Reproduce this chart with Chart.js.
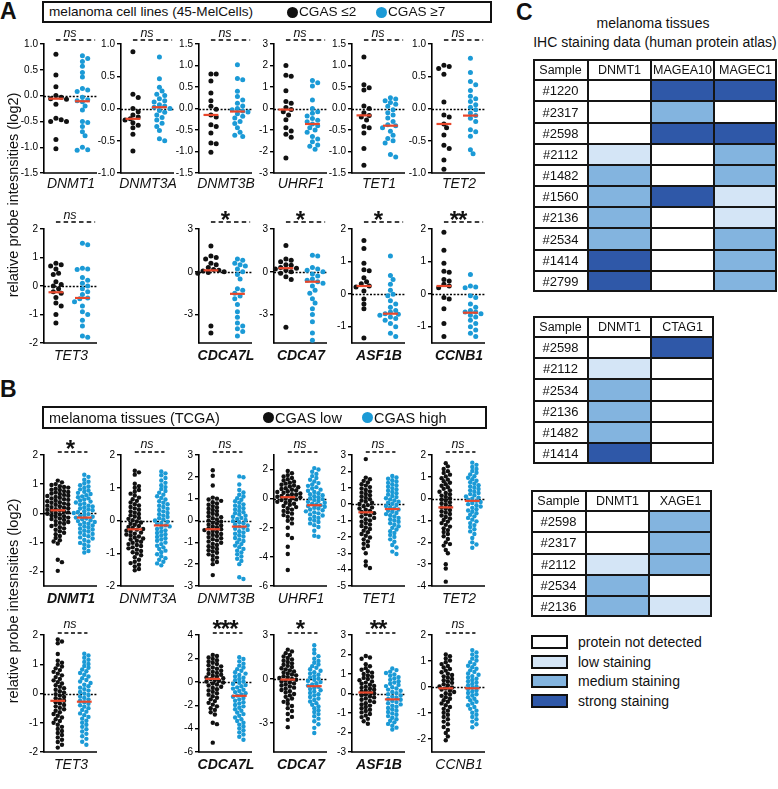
<!DOCTYPE html>
<html>
<head>
<meta charset="utf-8">
<script src="https://cdn.jsdelivr.net/npm/chart.js"></script>
<style>
  body { margin: 0; background: #fff; font-family: 'Liberation Sans', Arial, sans-serif; color: #111; }
  #page { position: relative; width: 778px; height: 789px; overflow: hidden; }
  .t { position: absolute; white-space: nowrap; line-height: 1; }
  canvas { position: absolute; }
  .box { position: absolute; border: 2px solid #111; box-sizing: border-box; }
  .dot { position: absolute; width: 11px; height: 11px; border-radius: 50%; }
  .sw { position: absolute; width: 37px; height: 14px; border: 2px solid #111; box-sizing: border-box; }
</style>
</head>
<body>
<div id="page"></div>
<script>
// ---------- panel A: melanoma cell lines (CGAS <=2 vs CGAS >=7) ----------
const aDNMT1Low = [0.8, 0.4, 0.17, 0.0, -0.03, -0.06, -0.07, -0.17, -0.44, -0.47, -0.5, -0.5, -0.85, -1.03];
const aDNMT1High = [0.77, 0.72, 0.66, 0.57, 0.45, 0.36, 0.14, 0.11, 0.08, -0.03, -0.08, -0.1, -0.12, -0.2, -0.28, -0.5, -0.52, -0.6, -0.7, -0.78, -1.0, -1.05, -1.06];
const aDNMT3ALow = [0.88, 0.22, 0.17, 0.0, -0.05, -0.1, -0.13, -0.16, -0.18, -0.22, -0.26, -0.3, -0.4, -0.66];
const aDNMT3AHigh = [0.8, 0.46, 0.33, 0.27, 0.22, 0.2, 0.15, 0.12, 0.1, 0.06, 0.04, 0.02, 0.0, -0.03, -0.06, -0.1, -0.14, -0.18, -0.23, -0.28, -0.34, -0.47, -0.5];
const aDNMT3BLow = [0.8, 0.8, 0.64, 0.36, 0.18, 0.05, -0.02, -0.15, -0.2, -0.38, -0.42, -0.57, -0.8, -0.82, -1.02];
const aDNMT3BHigh = [1.02, 0.7, 0.67, 0.4, 0.28, 0.2, 0.12, 0.06, 0.0, -0.03, -0.06, -0.08, -0.12, -0.18, -0.22, -0.3, -0.35, -0.45, -0.55, -0.62, -0.65];
const aUHRF1Low = [2.0, 1.55, 1.5, 0.83, 0.32, 0.25, 0.05, -0.05, -0.15, -0.3, -0.52, -0.9, -1.05, -1.2, -1.34, -2.3];
const aUHRF1High = [1.3, 1.2, 1.05, 0.4, 0.0, -0.15, -0.22, -0.35, -0.46, -0.55, -0.62, -0.72, -0.8, -0.9, -1.0, -1.1, -1.3, -1.42, -1.55, -1.7, -1.75, -1.9];
const aTET1Low = [1.2, 0.55, 0.48, 0.43, 0.06, 0.0, -0.1, -0.16, -0.2, -0.27, -0.42, -0.45, -0.57, -0.93, -1.32];
const aTET1High = [0.25, 0.22, 0.18, 0.14, 0.1, 0.05, -0.03, -0.1, -0.15, -0.22, -0.3, -0.38, -0.4, -0.45, -0.53, -0.62, -0.7, -0.75, -0.8, -1.07, -1.13];
const aTET2Low = [0.67, 0.65, 0.62, 0.53, 0.1, -0.1, -0.13, -0.24, -0.3, -0.41, -0.57, -0.62, -0.8, -0.94];
const aTET2High = [0.78, 0.56, 0.42, 0.37, 0.28, 0.19, 0.15, 0.11, 0.06, 0.02, -0.02, -0.07, -0.11, -0.15, -0.2, -0.33, -0.36, -0.43, -0.64, -0.7];
const aTET3Low = [0.8, 0.75, 0.7, 0.6, 0.45, 0.4, 0.15, 0.05, 0.0, -0.1, -0.2, -0.25, -0.4, -0.6, -0.7, -1.0, -1.3];
const aTET3High = [1.5, 1.45, 0.62, 0.6, 0.58, 0.3, 0.2, 0.1, 0.0, -0.1, -0.2, -0.3, -0.42, -0.45, -0.55, -0.7, -0.9, -1.0, -1.2, -1.4, -1.75, -1.8];
const aCDCA7LLow = [1.8, 1.1, 1.0, 0.9, 0.6, 0.5, 0.3, 0.15, 0.1, 0.05, 0.0, -0.05, -0.1, -3.8, -4.3];
const aCDCA7LHigh = [0.9, 0.8, 0.6, 0.5, 0.4, 0.2, 0.0, -0.2, -0.5, -1.2, -1.3, -1.5, -1.7, -1.9, -2.3, -2.8, -3.2, -3.6, -3.8, -4.0, -4.2, -4.5];
const aCDCA7Low = [1.85, 0.9, 0.8, 0.7, 0.5, 0.45, 0.3, 0.25, 0.2, 0.1, 0.0, -0.1, -0.35, -0.55, -3.9];
const aCDCA7High = [1.15, 1.1, 0.3, 0.2, 0.1, 0.0, -0.15, -0.3, -0.5, -0.6, -0.7, -0.8, -1.0, -1.3, -1.5, -1.9, -2.2, -2.6, -3.0, -3.5, -4.3, -4.8];
const aASF1BLow = [1.65, 1.4, 0.95, 0.75, 0.72, 0.5, 0.38, 0.32, 0.25, 0.22, 0.1, -0.15, -0.3, -0.45, -1.35];
const aASF1BHigh = [1.17, 0.57, 0.45, 0.3, 0.12, 0.0, -0.05, -0.2, -0.3, -0.4, -0.5, -0.55, -0.6, -0.62, -0.65, -0.7, -0.75, -0.8, -0.9, -1.0, -1.2, -1.3];
const aCCNB1Low = [1.9, 1.35, 0.95, 0.7, 0.67, 0.45, 0.4, 0.3, 0.25, 0.2, -0.1, -0.15, -0.45, -0.9, -1.3];
const aCCNB1High = [0.6, 0.25, 0.22, 0.2, -0.05, -0.1, -0.3, -0.4, -0.5, -0.55, -0.55, -0.6, -0.65, -0.7, -0.8, -0.9, -1.0, -1.1, -1.2, -1.3];
const aMedLow = [-0.06, -0.16, -0.15, -0.05, -0.16, -0.24, -0.22, 0.1, 0.25, 0.25, 0.25];
const aMedHigh = [-0.11, 0.02, -0.07, -0.72, -0.4, -0.11, -0.42, -1.55, -0.7, -0.6, -0.57];
const aSig = ['ns', 'ns', 'ns', 'ns', 'ns', 'ns', 'ns', '*', '*', '*', '**'];

// ---------- panel B: melanoma tissues TCGA (CGAS low vs high) ----------
const bDNMT1Low = [1.12, 1.06, 1.0, 0.97, 0.93, 0.9, 0.88, 0.84, 0.81, 0.8, 0.76, 0.73, 0.71, 0.68, 0.66, 0.63, 0.6, 0.59, 0.56, 0.53, 0.51, 0.48, 0.46, 0.43, 0.41, 0.38, 0.36, 0.33, 0.31, 0.29, 0.26, 0.24, 0.21, 0.19, 0.17, 0.14, 0.12, 0.1, 0.08, 0.05, 0.03, 0.01, -0.02, -0.04, -0.07, -0.1, -0.12, -0.15, -0.18, -0.2, -0.23, -0.27, -0.3, -0.33, -0.36, -0.4, -0.44, -0.48, -0.52, -0.57, -0.62, -0.67, -0.72, -0.78, -0.85, -0.93, -0.97, -1.04, -1.6, -1.68, -1.98];
const bDNMT1High = [1.32, 1.25, 1.15, 1.08, 1.02, 0.96, 0.92, 0.87, 0.82, 0.78, 0.74, 0.7, 0.66, 0.62, 0.58, 0.55, 0.51, 0.47, 0.44, 0.4, 0.37, 0.33, 0.3, 0.26, 0.23, 0.2, 0.16, 0.13, 0.1, 0.07, 0.04, 0.01, -0.03, -0.06, -0.09, -0.12, -0.15, -0.18, -0.21, -0.24, -0.27, -0.3, -0.33, -0.36, -0.39, -0.42, -0.46, -0.49, -0.53, -0.56, -0.6, -0.63, -0.67, -0.71, -0.75, -0.79, -0.83, -0.87, -0.92, -0.97, -1.02, -1.07, -1.13, -1.2, -1.3, -1.35];
const bDNMT3ALow = [1.52, 1.47, 1.4, 1.12, 1.05, 1.0, 0.93, 0.88, 0.82, 0.76, 0.7, 0.65, 0.6, 0.55, 0.5, 0.46, 0.41, 0.37, 0.33, 0.28, 0.24, 0.2, 0.16, 0.12, 0.08, 0.05, 0.01, -0.03, -0.06, -0.1, -0.13, -0.17, -0.2, -0.23, -0.26, -0.28, -0.31, -0.34, -0.37, -0.4, -0.43, -0.46, -0.49, -0.52, -0.55, -0.58, -0.62, -0.65, -0.68, -0.72, -0.75, -0.78, -0.82, -0.85, -0.89, -0.93, -0.97, -1.01, -1.06, -1.12, -1.2, -1.26, -1.3, -1.35, -1.4, -1.48, -1.52];
const bDNMT3AHigh = [1.5, 1.44, 1.38, 1.3, 1.22, 1.15, 1.08, 1.02, 0.96, 0.9, 0.85, 0.79, 0.74, 0.69, 0.64, 0.59, 0.54, 0.5, 0.45, 0.41, 0.36, 0.32, 0.28, 0.23, 0.19, 0.15, 0.11, 0.07, 0.03, 0.0, -0.04, -0.08, -0.11, -0.15, -0.18, -0.22, -0.26, -0.3, -0.34, -0.38, -0.42, -0.46, -0.5, -0.54, -0.58, -0.62, -0.67, -0.72, -0.77, -0.82, -0.87, -0.92, -0.97, -1.03, -1.09, -1.15, -1.2, -1.26, -1.31, -1.37];
const bDNMT3BLow = [2.3, 2.05, 1.6, 1.05, 1.0, 0.96, 0.9, 0.84, 0.78, 0.72, 0.66, 0.6, 0.54, 0.48, 0.43, 0.37, 0.31, 0.26, 0.2, 0.15, 0.1, 0.05, 0.0, -0.05, -0.1, -0.14, -0.19, -0.23, -0.28, -0.32, -0.36, -0.4, -0.44, -0.48, -0.53, -0.57, -0.62, -0.66, -0.71, -0.76, -0.81, -0.86, -0.91, -0.96, -1.02, -1.07, -1.12, -1.18, -1.24, -1.3, -1.36, -1.42, -1.48, -1.55, -1.62, -1.7, -1.8, -1.9, -2.0, -2.5];
const bDNMT3BHigh = [2.02, 1.98, 1.65, 1.4, 1.28, 1.18, 1.1, 1.02, 0.95, 0.88, 0.81, 0.74, 0.68, 0.62, 0.56, 0.5, 0.44, 0.38, 0.33, 0.27, 0.22, 0.17, 0.12, 0.07, 0.02, -0.03, -0.08, -0.13, -0.18, -0.23, -0.28, -0.33, -0.38, -0.43, -0.49, -0.55, -0.61, -0.67, -0.73, -0.8, -0.87, -0.94, -1.01, -1.08, -1.15, -1.22, -1.3, -1.38, -1.46, -1.55, -1.65, -1.75, -1.85, -2.0, -2.6, -2.68];
const bUHRF1Low = [1.9, 1.75, 1.62, 1.52, 1.42, 1.33, 1.25, 1.17, 1.1, 1.03, 0.96, 0.9, 0.84, 0.78, 0.72, 0.66, 0.61, 0.56, 0.51, 0.46, 0.41, 0.36, 0.31, 0.27, 0.22, 0.18, 0.13, 0.09, 0.05, 0.0, -0.05, -0.1, -0.16, -0.22, -0.28, -0.35, -0.42, -0.5, -0.58, -0.66, -0.75, -0.84, -0.93, -1.03, -1.13, -1.25, -1.38, -1.52, -1.7, -2.0, -2.5, -2.7, -3.3, -3.8, -4.9];
const bUHRF1High = [2.1, 2.0, 1.85, 1.7, 1.55, 1.42, 1.3, 1.18, 1.07, 0.97, 0.88, 0.79, 0.7, 0.62, 0.54, 0.46, 0.38, 0.31, 0.24, 0.17, 0.1, 0.03, -0.03, -0.1, -0.16, -0.22, -0.28, -0.34, -0.4, -0.45, -0.5, -0.56, -0.62, -0.68, -0.74, -0.8, -0.87, -0.94, -1.01, -1.08, -1.16, -1.24, -1.32, -1.4, -1.5, -1.6, -1.7, -1.82, -1.95, -2.2, -2.55, -2.62];
const bTET1Low = [2.75, 1.62, 1.52, 1.42, 1.32, 1.22, 1.13, 1.04, 0.95, 0.86, 0.78, 0.7, 0.62, 0.54, 0.46, 0.38, 0.3, 0.22, 0.15, 0.08, 0.01, -0.06, -0.13, -0.2, -0.27, -0.34, -0.41, -0.48, -0.55, -0.62, -0.69, -0.76, -0.84, -0.92, -1.0, -1.08, -1.16, -1.25, -1.34, -1.43, -1.52, -1.62, -1.72, -1.82, -1.93, -2.04, -2.15, -2.28, -2.42, -2.56, -2.7, -3.0, -3.5, -3.75, -3.9];
const bTET1High = [1.72, 1.63, 1.55, 1.46, 1.38, 1.3, 1.22, 1.14, 1.06, 0.98, 0.9, 0.82, 0.74, 0.66, 0.58, 0.5, 0.43, 0.36, 0.29, 0.22, 0.15, 0.08, 0.02, -0.05, -0.12, -0.19, -0.26, -0.33, -0.4, -0.47, -0.54, -0.61, -0.68, -0.76, -0.84, -0.92, -1.0, -1.08, -1.17, -1.26, -1.35, -1.45, -1.55, -1.65, -1.76, -1.88, -2.0, -2.15, -2.3, -2.5, -2.65, -2.9, -3.05];
const bTET2Low = [1.62, 1.48, 1.36, 1.26, 1.18, 1.1, 1.02, 0.94, 0.87, 0.8, 0.73, 0.66, 0.59, 0.52, 0.45, 0.38, 0.32, 0.26, 0.2, 0.14, 0.08, 0.02, -0.04, -0.1, -0.16, -0.22, -0.28, -0.34, -0.4, -0.46, -0.52, -0.58, -0.64, -0.7, -0.77, -0.84, -0.91, -0.98, -1.05, -1.12, -1.2, -1.28, -1.36, -1.44, -1.53, -1.62, -1.72, -1.85, -2.0, -2.08, -2.15, -2.35, -2.5, -3.0, -3.2, -3.8];
const bTET2High = [1.65, 1.55, 1.45, 1.36, 1.27, 1.19, 1.11, 1.03, 0.96, 0.89, 0.82, 0.75, 0.68, 0.62, 0.56, 0.5, 0.44, 0.38, 0.32, 0.26, 0.21, 0.15, 0.1, 0.05, 0.0, -0.05, -0.1, -0.15, -0.2, -0.25, -0.3, -0.36, -0.42, -0.48, -0.54, -0.6, -0.67, -0.74, -0.81, -0.88, -0.96, -1.04, -1.12, -1.21, -1.3, -1.4, -1.5, -1.62, -1.8, -2.0, -2.1, -2.25];
const bTET3Low = [1.85, 1.78, 1.72, 1.35, 1.12, 1.05, 0.98, 0.92, 0.86, 0.8, 0.74, 0.68, 0.62, 0.56, 0.5, 0.45, 0.39, 0.34, 0.28, 0.23, 0.18, 0.13, 0.08, 0.03, -0.02, -0.07, -0.12, -0.16, -0.21, -0.25, -0.3, -0.34, -0.39, -0.44, -0.49, -0.54, -0.59, -0.64, -0.7, -0.76, -0.82, -0.88, -0.94, -1.0, -1.07, -1.14, -1.21, -1.28, -1.35, -1.42, -1.5, -1.58, -1.66, -1.75, -1.85];
const bTET3High = [1.36, 1.3, 1.22, 1.15, 1.08, 1.01, 0.94, 0.88, 0.82, 0.76, 0.7, 0.64, 0.58, 0.52, 0.46, 0.41, 0.36, 0.3, 0.25, 0.2, 0.15, 0.1, 0.05, 0.0, -0.05, -0.1, -0.15, -0.2, -0.25, -0.3, -0.35, -0.4, -0.45, -0.5, -0.56, -0.62, -0.68, -0.74, -0.8, -0.86, -0.93, -1.0, -1.07, -1.14, -1.22, -1.3, -1.38, -1.46, -1.55, -1.65, -1.75];
const bCDCA7LLow = [2.3, 2.2, 2.08, 1.96, 1.85, 1.74, 1.63, 1.52, 1.42, 1.32, 1.22, 1.12, 1.03, 0.94, 0.85, 0.76, 0.68, 0.6, 0.52, 0.44, 0.37, 0.3, 0.23, 0.16, 0.09, 0.02, -0.06, -0.14, -0.23, -0.32, -0.42, -0.52, -0.63, -0.74, -0.86, -0.98, -1.1, -1.23, -1.36, -1.5, -1.65, -1.8, -1.95, -2.1, -2.25, -2.4, -2.6, -2.8, -3.5, -3.62, -5.2];
const bCDCA7LHigh = [2.1, 1.95, 1.75, 1.55, 1.38, 1.22, 1.08, 0.95, 0.82, 0.7, 0.58, 0.46, 0.35, 0.24, 0.13, 0.03, -0.08, -0.18, -0.28, -0.38, -0.48, -0.58, -0.68, -0.78, -0.88, -0.98, -1.08, -1.18, -1.28, -1.38, -1.5, -1.62, -1.74, -1.86, -1.98, -2.1, -2.22, -2.35, -2.48, -2.62, -2.76, -2.9, -3.05, -3.2, -3.35, -3.5, -3.66, -3.82, -3.98, -4.15, -4.32, -4.5, -4.7, -4.95];
const bCDCA7Low = [2.0, 1.88, 1.76, 1.64, 1.53, 1.43, 1.33, 1.24, 1.15, 1.06, 0.97, 0.89, 0.81, 0.73, 0.65, 0.58, 0.51, 0.44, 0.37, 0.3, 0.24, 0.18, 0.12, 0.06, 0.0, -0.06, -0.12, -0.18, -0.24, -0.31, -0.38, -0.45, -0.52, -0.6, -0.68, -0.76, -0.85, -0.94, -1.03, -1.13, -1.23, -1.34, -1.45, -1.57, -1.7, -1.85, -2.0, -2.2, -2.4, -2.6, -2.8, -3.3];
const bCDCA7High = [2.3, 2.0, 1.75, 1.55, 1.38, 1.23, 1.1, 0.98, 0.87, 0.76, 0.66, 0.56, 0.46, 0.37, 0.28, 0.19, 0.1, 0.02, -0.06, -0.14, -0.22, -0.3, -0.38, -0.46, -0.54, -0.62, -0.7, -0.78, -0.87, -0.96, -1.05, -1.14, -1.24, -1.34, -1.44, -1.55, -1.66, -1.77, -1.89, -2.01, -2.14, -2.27, -2.41, -2.56, -2.72, -2.9, -3.1, -3.35, -3.7];
const bASF1BLow = [1.92, 1.85, 1.78, 1.5, 1.4, 1.3, 1.22, 1.14, 1.07, 1.0, 0.93, 0.86, 0.8, 0.74, 0.68, 0.62, 0.56, 0.5, 0.45, 0.39, 0.34, 0.29, 0.24, 0.19, 0.14, 0.09, 0.05, 0.0, -0.05, -0.1, -0.15, -0.2, -0.26, -0.32, -0.38, -0.44, -0.5, -0.56, -0.62, -0.69, -0.76, -0.83, -0.9, -0.97, -1.05, -1.13, -1.21, -1.3, -1.42, -1.55];
const bASF1BHigh = [1.28, 1.2, 1.12, 1.05, 0.98, 0.91, 0.84, 0.77, 0.7, 0.63, 0.56, 0.5, 0.44, 0.38, 0.32, 0.26, 0.2, 0.14, 0.08, 0.02, -0.04, -0.1, -0.16, -0.22, -0.28, -0.32, -0.38, -0.44, -0.5, -0.56, -0.62, -0.68, -0.74, -0.81, -0.88, -0.95, -1.02, -1.09, -1.16, -1.24, -1.32, -1.4, -1.48, -1.56, -1.65, -1.75, -1.85];
const bCCNB1Low = [1.25, 1.18, 1.1, 1.02, 0.95, 0.88, 0.81, 0.75, 0.69, 0.63, 0.57, 0.51, 0.46, 0.41, 0.36, 0.31, 0.26, 0.21, 0.16, 0.11, 0.06, 0.02, -0.02, -0.06, -0.1, -0.14, -0.19, -0.24, -0.29, -0.34, -0.39, -0.45, -0.51, -0.57, -0.63, -0.7, -0.77, -0.84, -0.91, -0.99, -1.07, -1.15, -1.24, -1.33, -1.43, -1.54, -1.65, -1.77, -1.9, -2.05];
const bCCNB1High = [1.42, 1.33, 1.25, 1.17, 1.09, 1.02, 0.95, 0.88, 0.82, 0.76, 0.7, 0.64, 0.58, 0.52, 0.47, 0.42, 0.37, 0.32, 0.27, 0.22, 0.17, 0.12, 0.07, 0.02, -0.03, -0.08, -0.13, -0.18, -0.23, -0.28, -0.33, -0.39, -0.45, -0.51, -0.57, -0.63, -0.7, -0.77, -0.84, -0.91, -0.99, -1.07, -1.15, -1.24, -1.33, -1.43, -1.55];
const bMedLow = [0.1, -0.27, -0.4, 0.1, -0.5, -0.4, -0.25, 0.25, -0.05, 0.05, -0.05];
const bMedHigh = [-0.15, -0.15, -0.28, -0.45, -0.3, -0.1, -0.28, -1.2, -0.5, -0.3, -0.05];
const bSig = ['*', 'ns', 'ns', 'ns', 'ns', 'ns', 'ns', '***', '*', '**', 'ns'];

// ---------- panel C: IHC staining (0 none, 1 low, 2 medium, 3 strong) ----------
const t1Samples = ['#1220', '#2317', '#2598', '#2112', '#1482', '#1560', '#2136', '#2534', '#1414', '#2799'];
const t1Genes = ['DNMT1', 'MAGEA10', 'MAGEC1'];
const t1DNMT1 = [0, 0, 0, 1, 2, 2, 2, 2, 3, 3];
const t1MAGEA10 = [3, 2, 3, 0, 0, 3, 0, 0, 0, 0];
const t1MAGEC1 = [3, 0, 3, 2, 2, 1, 1, 2, 2, 2];
const t2Samples = ['#2598', '#2112', '#2534', '#2136', '#1482', '#1414'];
const t2Genes = ['DNMT1', 'CTAG1'];
const t2DNMT1 = [0, 1, 2, 2, 2, 3];
const t2CTAG1 = [3, 0, 0, 0, 0, 0];
const t3Samples = ['#2598', '#2317', '#2112', '#2534', '#2136'];
const t3Genes = ['DNMT1', 'XAGE1'];
const t3DNMT1 = [0, 0, 1, 2, 2];
const t3XAGE1 = [2, 2, 2, 0, 1];
const stainNames = ['protein not detected', 'low staining', 'medium staining', 'strong staining'];

const BLACK = '#111111', BLUE = '#1b9ad6', RED = '#e8472b';
const STAIN = ['#ffffff', '#d4e5f6', '#83b4df', '#2f58a8'];
const page = document.getElementById('page');

function mkCanvas(l, t, w, h) {
  const c = document.createElement('canvas');
  c.width = w; c.height = h;
  c.style.left = l + 'px'; c.style.top = t + 'px';
  c.style.width = w + 'px'; c.style.height = h + 'px';
  page.appendChild(c);
  return c;
}

function txt(s, cx, cy, css, align) {
  const d = document.createElement('div');
  d.className = 't';
  d.textContent = s;
  const tx = align === 'left' ? '0' : '-50%';
  d.style.cssText = `left:${cx}px;top:${cy}px;transform:translate(${tx},-50%);` + (css || '');
  page.appendChild(d);
  return d;
}

// deterministic beeswarm layout of one group (x offsets only, y stays the value)
function swarm(vals, cx, ppu, d) {
  const unit = PW / 2;
  const placed = [];
  return vals.slice().sort((a, b) => b - a).map(v => {
    const py = -v * ppu;
    let off = 0;
    for (let k = 0; k < 60; k++) {
      const c = k === 0 ? 0 : (k % 2 ? 1 : -1) * Math.ceil(k / 2) * d * 0.55;
      const hit = placed.some(p => (p.x - c) ** 2 + (p.y - py) ** 2 < d * d * 0.92);
      if (!hit) { off = c; break; }
    }
    placed.push({ x: off, y: py });
    return { x: cx + off / unit, y: v };
  });
}

const deco = {
  id: 'deco',
  beforeDatasetsDraw(chart, args, o) {
    const { ctx, chartArea: a, scales: { x, y } } = chart;
    const line = (x1, y1, x2, y2) => { ctx.beginPath(); ctx.moveTo(x1, y1); ctx.lineTo(x2, y2); ctx.stroke(); };
    ctx.save();
    ctx.strokeStyle = '#000';
    ctx.lineWidth = 1.4;
    ctx.setLineDash([2, 1.6]);
    const y0 = Math.round(y.getPixelForValue(0)) + 0.5;
    line(a.left, y0, a.right, y0);
    ctx.setLineDash([]);
    ctx.lineWidth = 1.6;
    line(a.left - 0.8, a.bottom, a.right, a.bottom);
    ctx.setLineDash(o.dash);
    ctx.lineWidth = 1.6;
    line(x.getPixelForValue(0), a.top - o.dashOff, x.getPixelForValue(o.dashEnd), a.top - o.dashOff);
    ctx.restore();
  }
};

const LBL = 30, PADT = 12, PADB = 8, PW = 53;

function dotPlot(p) {
  const [ymin, ymax, step] = p.range;
  const h = p.bottom - p.top;
  const cv = mkCanvas(p.x - LBL, p.top - PADT, LBL + PW + 4, h + PADT + PADB);
  const ppu = h / (ymax - ymin);
  const dec = step < 1;
  const med = (cx, m) => [{ x: cx - 0.28, y: m }, { x: cx + 0.28, y: m }];
  new Chart(cv, {
    type: 'scatter',
    data: {
      datasets: [
        { type: 'line', data: med(0, p.medLow), borderColor: RED, borderWidth: 2.2, pointRadius: 0, order: 0, clip: false },
        { type: 'line', data: med(1, p.medHigh), borderColor: RED, borderWidth: 2.2, pointRadius: 0, order: 0, clip: false },
        { data: swarm(p.low, 0, ppu, p.d), backgroundColor: BLACK, pointRadius: p.r, borderWidth: 0, order: 1, clip: false },
        { data: swarm(p.high, 1, ppu, p.d), backgroundColor: BLUE, pointRadius: p.r, borderWidth: 0, order: 1, clip: false }
      ]
    },
    options: {
      responsive: false,
      animation: false,
      events: [],
      layout: { padding: { top: PADT, bottom: PADB, left: 0, right: 4 } },
      plugins: {
        legend: { display: false },
        tooltip: { enabled: false },
        deco: { dashOff: p.top - p.dashY, dashEnd: p.dashEnd, dash: p.dashPat }
      },
      scales: {
        x: { type: 'linear', min: p.xMin, max: p.xMin + 2, display: false },
        y: {
          min: ymin, max: ymax,
          afterFit(s) { s.width = LBL; },
          border: { display: true, color: '#000', width: 1.6 },
          grid: { drawOnChartArea: false, drawTicks: true, tickLength: 4, color: '#000', lineWidth: 1.4 },
          ticks: {
            stepSize: step, includeBounds: false, color: '#000', padding: 2,
            font: { family: 'Liberation Sans', size: 10 },
            callback: v => dec ? v.toFixed(1) : String(Math.round(v))
          }
        }
      }
    },
    plugins: [deco]
  });
  // gene label and significance mark
  txt(p.gene, p.x + 27, p.lblY, `font-size:14px;font-style:italic;${p.bold ? 'font-weight:bold;' : ''}`);
  if (p.sig === 'ns') txt('ns', p.x + 26, p.sigY - 2, 'font-size:12.5px;font-style:italic;');
  else txt(p.sig, p.x + 26, p.sigY + 3, 'font-size:24px;font-weight:bold;letter-spacing:-1px;');
}

const colX = [44, 121, 199, 274, 352, 432];
const genesA = ['DNMT1', 'DNMT3A', 'DNMT3B', 'UHRF1', 'TET1', 'TET2', 'TET3', 'CDCA7L', 'CDCA7', 'ASF1B', 'CCNB1'];
const slots = [0, 1, 2, 3, 4, 5, 0, 2, 3, 4, 5];

const rowsA = [
  { top: 44, bottom: 173, dashY: 40, sigY: 35, lblY: 183 },
  { top: 229, bottom: 343, dashY: 222, sigY: 217, lblY: 355 }
];
const rowsB = [
  { top: 455, bottom: 586, dashY: 452, sigY: 446, lblY: 598 },
  { top: 635, bottom: 752, dashY: 633, sigY: 626, lblY: 764 }
];
const rangesA = [[-1.5, 1, 0.5], [-1, 1, 0.5], [-1.5, 1.5, 0.5], [-3, 3, 1], [-1.5, 1.5, 0.5], [-1, 1, 0.5],
  [-2, 2, 1], [-5, 3, 3], [-5, 3, 3], [-1.5, 2, 1], [-1.5, 2, 1]];
const rangesB = [[-2.5, 2, 1], [-2, 2, 1], [-3, 3, 1], [-6, 3, 1], [-5, 3, 1], [-4, 2, 1],
  [-2, 2, 1], [-6, 4, 2], [-5, 3, 3], [-3, 3, 1], [-2.5, 2, 1]];
const boldA = [false, false, false, false, false, false, false, true, true, true, true];
const boldB = [true, false, false, false, false, false, false, true, true, true, false];
const lowA = [aDNMT1Low, aDNMT3ALow, aDNMT3BLow, aUHRF1Low, aTET1Low, aTET2Low, aTET3Low, aCDCA7LLow, aCDCA7Low, aASF1BLow, aCCNB1Low];
const highA = [aDNMT1High, aDNMT3AHigh, aDNMT3BHigh, aUHRF1High, aTET1High, aTET2High, aTET3High, aCDCA7LHigh, aCDCA7High, aASF1BHigh, aCCNB1High];
const lowB = [bDNMT1Low, bDNMT3ALow, bDNMT3BLow, bUHRF1Low, bTET1Low, bTET2Low, bTET3Low, bCDCA7LLow, bCDCA7Low, bASF1BLow, bCCNB1Low];
const highB = [bDNMT1High, bDNMT3AHigh, bDNMT3BHigh, bUHRF1High, bTET1High, bTET2High, bTET3High, bCDCA7LHigh, bCDCA7High, bASF1BHigh, bCCNB1High];

genesA.forEach((g, i) => {
  const ra = rowsA[i < 6 ? 0 : 1], rb = rowsB[i < 6 ? 0 : 1];
  dotPlot(Object.assign({ gene: g, x: colX[slots[i]], range: rangesA[i], bold: boldA[i], sig: aSig[i],
    low: lowA[i], high: highA[i], medLow: aMedLow[i], medHigh: aMedHigh[i], r: 2.5, d: 4.8, xMin: -0.45,
    dashEnd: 1.48, dashPat: [4.5, 3.2] }, ra));
  dotPlot(Object.assign({ gene: g, x: colX[slots[i]], range: rangesB[i], bold: boldB[i], sig: bSig[i],
    low: lowB[i], high: highB[i], medLow: bMedLow[i], medHigh: bMedHigh[i], r: 2.2, d: 3.8, xMin: -0.52,
    dashEnd: 1.12, dashPat: [4, 2.6] }, rb));
});

// ---------- titles, legends ----------
txt('A', 0, 11, 'font-size:23px;font-weight:bold;', 'left');
txt('B', 0, 389, 'font-size:23px;font-weight:bold;', 'left');
txt('C', 516, 12, 'font-size:23px;font-weight:bold;', 'left');
const yTitle = 'relative probe intesnsities (log2)';
txt(yTitle, 13, 195, 'font-size:14.5px;transform:translate(-50%,-50%) rotate(-90deg);');
txt(yTitle, 13, 601, 'font-size:14.5px;transform:translate(-50%,-50%) rotate(-90deg);');

function legendBox(l, t, w, h, title, items, fs) {
  const b = document.createElement('div');
  b.className = 'box';
  b.style.cssText = `left:${l}px;top:${t}px;width:${w}px;height:${h}px;`;
  page.appendChild(b);
  const cy = t + h / 2;
  txt(title, l + 7, cy, `font-size:${fs}px;`, 'left');
  items.forEach(it => {
    const d = document.createElement('div');
    d.className = 'dot';
    d.style.cssText = `left:${it.x - 5.5}px;top:${cy - 5.5}px;background:${it.c};`;
    page.appendChild(d);
    txt(it.t, it.x + 7, cy, `font-size:${fs}px;`, 'left');
  });
}
legendBox(42, 1, 450, 22, 'melanoma cell lines (45-MelCells)',
  [{ x: 292, c: BLACK, t: 'CGAS \u22642' }, { x: 381, c: BLUE, t: 'CGAS \u22657' }], 13.6);
legendBox(42, 406, 445, 23, 'melanoma tissues (TCGA)',
  [{ x: 268, c: BLACK, t: 'CGAS low' }, { x: 367, c: BLUE, t: 'CGAS high' }], 14.5);

// ---------- panel C tables ----------
const tableText = {
  id: 'tableText',
  afterDatasetsDraw(chart) {
    const { ctx, chartArea: a } = chart;
    const line = (x1, y1, x2, y2) => { ctx.beginPath(); ctx.moveTo(x1, y1); ctx.lineTo(x2, y2); ctx.stroke(); };
    ctx.save();
    ctx.strokeStyle = '#151515';
    ctx.lineWidth = 2;
    chart.getDatasetMeta(0).data.forEach((el, j) => {
      if (j > 0) { const yy = Math.round(el.y - el.height / 2); line(a.left, yy, a.right, yy); }
    });
    chart.data.datasets.forEach((ds, i) => {
      if (i > 0) { const xx = Math.round(chart.getDatasetMeta(i).data[0].base); line(xx, a.top, xx, a.bottom); }
    });
    ctx.strokeRect(a.left + 1, a.top + 1, a.width - 2, a.height - 2);
    ctx.fillStyle = '#111';
    ctx.textAlign = 'center';
    ctx.textBaseline = 'middle';
    chart.data.datasets.forEach((ds, i) => {
      chart.getDatasetMeta(i).data.forEach((el, j) => {
        const s = ds.cellText[j];
        if (!s) return;
        ctx.font = (j === 0 ? '12.5px' : '13px') + ' "Liberation Sans", Arial, sans-serif';
        ctx.fillText(s, (el.x + el.base) / 2, el.y + 1);
      });
    });
    ctx.restore();
  }
};

function heatTable(l, t, rowH, genes, samples, levels) {
  const cw0 = 55, cw = 63;
  const rows = ['Sample'].concat(samples);
  const w = cw0 + cw * genes.length, h = Math.round(rowH * rows.length);
  const cv = mkCanvas(l, t, w, h);
  const datasets = [{ data: rows.map(() => cw0), backgroundColor: '#fff', cellText: rows }];
  genes.forEach((g, i) => datasets.push({
    data: rows.map(() => cw),
    backgroundColor: ['#fff'].concat(levels[i].map(v => STAIN[v])),
    cellText: [g].concat(samples.map(() => ''))
  }));
  new Chart(cv, {
    type: 'bar',
    data: { labels: rows, datasets },
    options: {
      indexAxis: 'y', responsive: false, animation: false, events: [],
      layout: { padding: 0 },
      datasets: { bar: { barPercentage: 1, categoryPercentage: 1, borderWidth: 0, borderSkipped: false, inflateAmount: 0 } },
      plugins: { legend: { display: false }, tooltip: { enabled: false } },
      scales: {
        x: { stacked: true, min: 0, max: w, display: false },
        y: { stacked: true, display: false }
      }
    },
    plugins: [tableText]
  });
}
heatTable(533, 59, 21.2, t1Genes, t1Samples, [t1DNMT1, t1MAGEA10, t1MAGEC1]);
heatTable(533, 316, 21.15, t2Genes, t2Samples, [t2DNMT1, t2CTAG1]);
heatTable(531, 490, 21.2, t3Genes, t3Samples, [t3DNMT1, t3XAGE1]);

txt('melanoma tissues', 653, 23, 'font-size:14px;');
txt('IHC staining data (human protein atlas)', 655, 42, 'font-size:14px;');
const swY = [635, 655, 674, 694];
stainNames.forEach((s, i) => {
  const d = document.createElement('div');
  d.className = 'sw';
  d.style.cssText = `left:531px;top:${swY[i]}px;background:${STAIN[i]};`;
  page.appendChild(d);
  txt(s, 578, swY[i] + 7, 'font-size:14px;', 'left');
});
</script>
</body>
</html>
